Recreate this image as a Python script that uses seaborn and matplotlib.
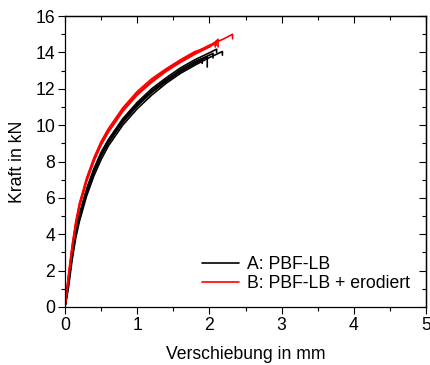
import matplotlib
matplotlib.use("Agg")
import matplotlib.pyplot as plt
from matplotlib.ticker import MultipleLocator
import seaborn as sns
import pandas as pd

# Displacement grid (mm) shared by the early part of every test curve
disp = [0, 0.02, 0.05, 0.1, 0.15, 0.2, 0.3, 0.4, 0.5, 0.6, 0.8, 1.0, 1.2, 1.4, 1.6, 1.8, 2.0]

# Group A: PBF-LB specimens (force in kN), each with its own end/fracture points
a1_force = [0, 0.5, 1.3, 2.8, 4.0, 4.9, 6.3, 7.4, 8.3, 9.0, 10.2, 11.1, 11.8, 12.45, 12.95, 13.4]
a1_end_x = [1.97, 1.97]
a1_end_f = [13.75, 13.2]

a2_force = [0, 0.6, 1.5, 3.0, 4.2, 5.1, 6.5, 7.6, 8.5, 9.2, 10.35, 11.25, 12.0, 12.6, 13.15, 13.6, 13.98]
a2_end_x = [2.10, 2.10]
a2_end_f = [14.18, 14.0]

a3_force = [0, 0.4, 1.1, 2.6, 3.8, 4.7, 6.1, 7.2, 8.1, 8.85, 10.0, 10.9, 11.65, 12.3, 12.85, 13.3, 13.72]
a3_end_x = [2.18, 2.18]
a3_end_f = [14.05, 13.85]

a4_force = [0, 0.55, 1.4, 2.9, 4.1, 5.0, 6.4, 7.5, 8.4, 9.1, 10.25, 11.15, 11.9, 12.5, 13.05, 13.5, 13.85]
a4_end_x = [2.05, 2.05]
a4_end_f = [13.95, 13.7]

a5_force = [0, 0.5, 1.35, 2.85, 4.05, 4.95, 6.35, 7.45, 8.35, 9.05, 10.15, 11.05, 11.8, 12.4, 12.95, 13.4]
a5_end_x = [1.9, 1.9]
a5_end_f = [13.6, 13.4]

# Group B: PBF-LB + eroded specimens (force in kN)
b1_force = [0, 0.7, 1.7, 3.3, 4.6, 5.6, 7.0, 8.1, 9.0, 9.7, 10.85, 11.75, 12.45, 13.05, 13.55, 14.0, 14.4]
b1_end_x = [2.2, 2.32, 2.32]
b1_end_f = [14.75, 15.0, 14.75]

b2_force = [0, 0.65, 1.6, 3.2, 4.5, 5.5, 6.9, 8.0, 8.9, 9.6, 10.75, 11.65, 12.35, 12.95, 13.45, 13.9, 14.3]
b2_end_x = [2.12, 2.12]
b2_end_f = [14.72, 14.3]

b3_force = [0, 0.75, 1.8, 3.4, 4.7, 5.7, 7.1, 8.2, 9.1, 9.8, 10.95, 11.85, 12.55, 13.1, 13.6, 14.05, 14.3]
b3_end_x = [2.10, 2.10]
b3_end_f = [14.55, 14.4]

b4_force = [0, 0.7, 1.65, 3.25, 4.55, 5.55, 6.95, 8.05, 8.95, 9.65, 10.8, 11.7, 12.4, 13.0, 13.5, 13.95, 14.35]
b4_end_x = [2.08, 2.08]
b4_end_f = [14.5, 14.3]

group_a = "A: PBF-LB"
group_b = "B: PBF-LB + erodiert"

specimens = [
    ("A1", group_a, a1_force, a1_end_x, a1_end_f),
    ("A2", group_a, a2_force, a2_end_x, a2_end_f),
    ("A3", group_a, a3_force, a3_end_x, a3_end_f),
    ("A4", group_a, a4_force, a4_end_x, a4_end_f),
    ("A5", group_a, a5_force, a5_end_x, a5_end_f),
    ("B1", group_b, b1_force, b1_end_x, b1_end_f),
    ("B2", group_b, b2_force, b2_end_x, b2_end_f),
    ("B3", group_b, b3_force, b3_end_x, b3_end_f),
    ("B4", group_b, b4_force, b4_end_x, b4_end_f),
]

rows = []
for name, group, force, end_x, end_f in specimens:
    xs = disp[:len(force)] + end_x
    fs = force + end_f
    for i, (x, f) in enumerate(zip(xs, fs)):
        rows.append({"Probe": name, "Gruppe": group, "step": i,
                     "Verschiebung": x, "Kraft": f})
df = pd.DataFrame(rows)

sns.set_theme(style="ticks")
plt.rcParams["font.family"] = ["Liberation Sans", "DejaVu Sans"]
plt.rcParams["text.color"] = "black"
plt.rcParams["axes.labelcolor"] = "black"
fs_txt = 12.7

fig = plt.figure(figsize=(4.3, 3.65), dpi=100)
ax = fig.add_axes([0.151, 0.159, 0.840, 0.797])

sns.lineplot(data=df, x="Verschiebung", y="Kraft", hue="Gruppe", units="Probe",
             estimator=None, sort=False, palette={group_a: "#000000", group_b: "#ff0000"},
             linewidth=1.2, ax=ax)

ax.set_xlim(0, 5)
ax.set_ylim(0, 16)

def style_ticks(axis_obj, xaxis, direction, labels):
    loc = axis_obj.xaxis if xaxis else axis_obj.yaxis
    name = "x" if xaxis else "y"
    if xaxis:
        loc.set_major_locator(MultipleLocator(1))
        loc.set_minor_locator(MultipleLocator(0.5))
    else:
        loc.set_major_locator(MultipleLocator(2))
        loc.set_minor_locator(MultipleLocator(1))
    axis_obj.tick_params(axis=name, which="both", direction=direction, width=0.8,
                         color="black", labelcolor="black", labelsize=fs_txt, pad=2)
    axis_obj.tick_params(axis=name, which="major", length=5)
    axis_obj.tick_params(axis=name, which="minor", length=3)
    if not labels:
        axis_obj.tick_params(axis=name, which="both",
                             labeltop=False, labelright=False,
                             labelbottom=False, labelleft=False)

# outward ticks on the bottom/left axes, inward mirrored ticks on top/right
style_ticks(ax, True, "out", True)
style_ticks(ax, False, "out", True)
top = ax.secondary_xaxis("top")
right = ax.secondary_yaxis("right")
style_ticks(top, True, "in", False)
style_ticks(right, False, "in", False)

for a in (ax, top, right):
    for sp in a.spines.values():
        sp.set_linewidth(0.9)
        sp.set_color("black")

ax.set_xlabel("Verschiebung in mm", fontsize=fs_txt, labelpad=9, color="black")
ax.set_ylabel("Kraft in kN", fontsize=fs_txt, labelpad=7, color="black")

handles, labels = ax.get_legend_handles_labels()
ax.legend(handles, labels, loc="lower right", frameon=False, fontsize=fs_txt,
          handlelength=2.1, handletextpad=0.45, labelspacing=0.1,
          borderaxespad=0.3, bbox_to_anchor=(0.99, 0.01), labelcolor="black")

fig.savefig("out.png", dpi=100)
